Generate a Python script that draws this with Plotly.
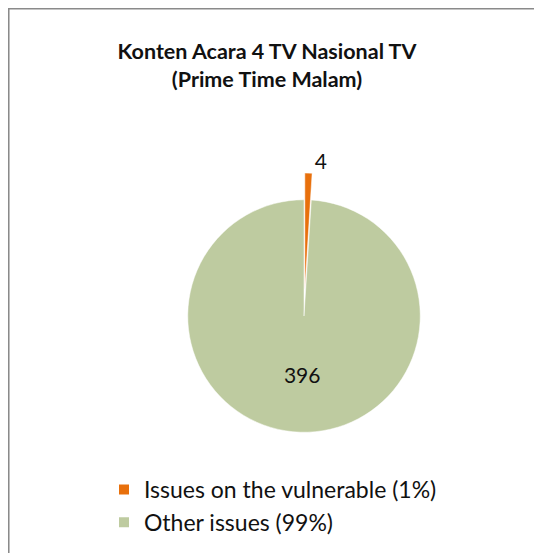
import plotly.graph_objects as go

# data
labels = ["Issues on the vulnerable (1%)", "Other issues (99%)"]
values = [4, 396]
colors = ["#E8700C", "#BECBA0"]
pulls = [0.23, 0]
text_positions = ["outside", "inside"]

W, H = 542, 553
# the page body adds an 8px margin, so figure coords = picture coords - 8
OFF = 8
cx, cy, half = 304 - OFF, 316 - OFF, 143

fig = go.Figure()

fig.add_trace(go.Pie(
    labels=labels,
    values=values,
    sort=False,
    direction="clockwise",
    rotation=0,
    pull=pulls,
    marker=dict(colors=colors, line=dict(color="white", width=0.5)),
    texttemplate="%{value}",
    textposition=text_positions,
    textfont=dict(size=21, color="#111111", family="Lato"),
    hoverinfo="label+value",
    domain=dict(x=[(cx - half) / W, (cx + half) / W],
                y=[1 - (cy + half) / H, 1 - (cy - half) / H]),
))

# thin grey frame round the chart area
fig.add_shape(type="rect", xref="paper", yref="paper",
              x0=0.001, x1=1.05, y0=-0.05, y1=0.999,
              line=dict(color="#8a8a8a", width=2), fillcolor="rgba(0,0,0,0)")

fig.update_layout(
    width=W, height=H,
    margin=dict(l=0, r=0, t=0, b=0),
    paper_bgcolor="white",
    title=dict(
        text="<b>Konten Acara 4 TV Nasional TV<br>(Prime Time Malam)</b>",
        x=(267 - OFF) / W, xanchor="center",
        y=1 - 51 / H, yanchor="top",
        font=dict(family="Lato", size=21.5, color="#111111"),
    ),
    showlegend=True,
    legend=dict(
        x=(104 - OFF) / W, xanchor="left",
        y=1 - (468 - OFF) / H, yanchor="top",
        font=dict(family="Lato", size=23, color="#111111"),
        itemsizing="constant",
        tracegroupgap=0,
    ),
)

fig.write_html("out.html")
